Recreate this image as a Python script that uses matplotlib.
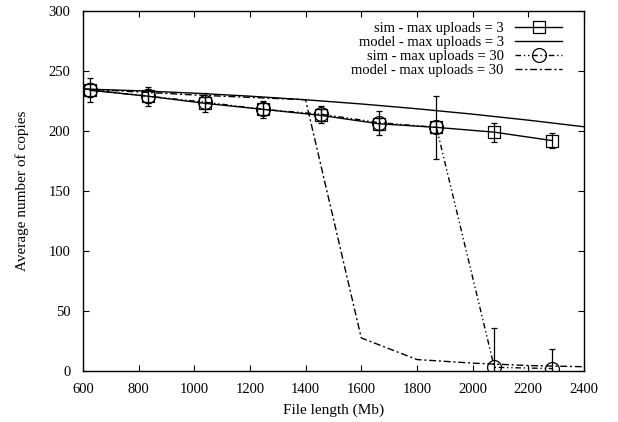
import matplotlib
matplotlib.use("Agg")
import matplotlib.pyplot as plt
from matplotlib.lines import Line2D

# simulation points (file length in Mb)
sim_x = [625, 833, 1040, 1248, 1455, 1663, 1870, 2078, 2285]

sim3_y = [234, 229, 223, 218, 213, 206, 203, 199, 192]
sim3_err = [6, 6, 5, 5, 5, 5, 5, 8, 6]

sim30_y = [234, 229, 224, 218, 214, 207, 203, 3, 2]
sim30_err = [10, 8, 8, 7, 7, 10, 26, 33, 16]

# model curves
model_x = [600, 800, 1000, 1200, 1400, 1600, 1800, 2000, 2200, 2400]
model3_y = [235, 233.5, 231.5, 229, 226, 222.5, 218.5, 214, 209, 203.5]
model30_y = [235, 232.5, 230, 228, 226, 27.5, 9.5, 6.5, 4.5, 3.5]

labels = ["sim - max uploads = 3", "model - max uploads = 3",
          "sim - max uploads = 30", "model - max uploads = 30"]

plt.rcParams["font.family"] = ["Liberation Serif", "DejaVu Serif"]
plt.rcParams["font.size"] = 10.5

fig = plt.figure(figsize=(6.18, 4.22), dpi=100)
ax = fig.add_axes([0.134, 0.121, 0.811, 0.853])

dashdotdot = (0, (4, 2, 1, 2, 1, 2))
dashdot = (0, (5, 2, 1.5, 2))

sq = dict(marker="s", ms=9, mfc="none", mec="black", mew=0.9)
ci = dict(marker="o", ms=10, mfc="none", mec="black", mew=0.9)
eb = dict(capsize=2.5, elinewidth=0.9, capthick=0.9)

ax.errorbar(sim_x, sim3_y, yerr=sim3_err, color="black", lw=1.0, **sq, **eb)
ax.plot(model_x, model3_y, color="black", lw=1.0)
ax.errorbar(sim_x, sim30_y, yerr=sim30_err, color="black", lw=1.0, ls=dashdotdot,
            **ci, **eb)
ax.plot(model_x, model30_y, color="black", lw=1.0, ls=dashdot)

handles = [
    Line2D([], [], color="black", lw=1.0, **sq),
    Line2D([], [], color="black", lw=1.0),
    Line2D([], [], color="black", lw=1.0, ls=dashdotdot, **ci),
    Line2D([], [], color="black", lw=1.0, ls=dashdot),
]

ax.set_xlim(600, 2400)
ax.set_ylim(0, 300)
ax.set_xticks(range(600, 2401, 200))
ax.set_yticks(range(0, 301, 50))
ax.tick_params(direction="in", top=True, right=True, length=4, width=0.8, pad=9)
for s in ax.spines.values():
    s.set_linewidth(1.0)

ax.set_xlabel("File length (Mb)", fontsize=11, labelpad=5)
ax.set_ylabel("Average number of copies", fontsize=11, labelpad=14)

ax.legend(handles, labels, loc="upper right", bbox_to_anchor=(0.968, 0.985),
          frameon=False, markerfirst=False, borderaxespad=0,
          handlelength=3.2, labelspacing=0.05, handletextpad=0.8, fontsize=10.5)

fig.savefig("out.png", dpi=100)
plt.close(fig)
